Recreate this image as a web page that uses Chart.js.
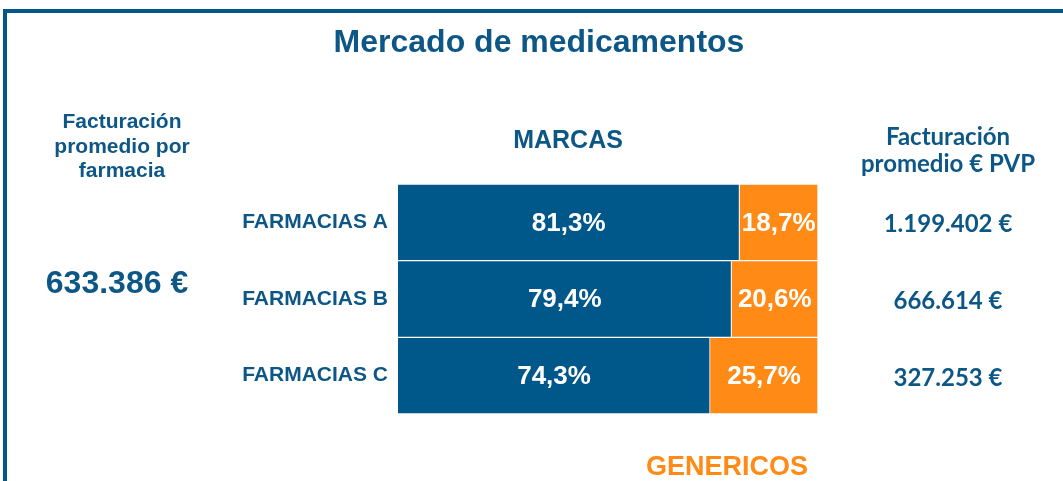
<!DOCTYPE html>
<html>
<head>
<meta charset="utf-8">
<script src="https://cdn.jsdelivr.net/npm/chart.js@4"></script>
<style>
  html, body { margin: 0; padding: 0; background: #fff; }
  #wrap { width: 1063px; height: 481px; position: relative; }
</style>
</head>
<body>
<div id="wrap"><canvas id="chart" width="1063" height="481"></canvas></div>
<script>
var farmacias = ['FARMACIAS A', 'FARMACIAS B', 'FARMACIAS C'];
var marcas = [81.3, 79.4, 74.3];
var genericos = [18.7, 20.6, 25.7];
var facturacionPVP = ['1.199.402 €', '666.614 €', '327.253 €'];
var facturacionMedia = '633.386 €';

var BLUE = '#00578A';
var TEXT_BLUE = '#0D5786';
var ORANGE = '#FF8B16';
var ARIAL = '"Liberation Sans", Arial, sans-serif';
var CALIBRI = 'Lato, "Open Sans", sans-serif';

// frame + free text around the bars
var decorPlugin = {
    id: 'decor',
    beforeDraw: function (chart) {
        var c = chart.ctx;
        c.save();
        c.fillStyle = BLUE;
        c.fillRect(3, 9, 1060, 4);
        c.fillRect(3, 9, 4, 472);

        c.textAlign = 'center';
        c.textBaseline = 'alphabetic';
        c.fillStyle = TEXT_BLUE;
        c.font = 'bold 32px ' + ARIAL;
        c.fillText('Mercado de medicamentos', 539, 52);

        c.font = 'bold 25px ' + ARIAL;
        c.fillText('MARCAS', 568, 148);

        c.font = 'bold 21px ' + ARIAL;
        c.fillText('Facturación', 122, 128);
        c.fillText('promedio por', 122, 152.5);
        c.fillText('farmacia', 122, 177);

        c.font = 'bold 32px ' + ARIAL;
        c.fillText(facturacionMedia, 117, 293);

        c.font = 'bold 24px ' + CALIBRI;
        c.fillText('Facturación', 948, 145);
        c.fillText('promedio € PVP', 948, 172);

        var yScale = chart.scales.y;
        facturacionPVP.forEach(function (v, i) {
            c.fillText(v, 948, yScale.getPixelForValue(i) + 10);
        });

        c.fillStyle = ORANGE;
        c.font = 'bold 27px ' + ARIAL;
        c.fillText('GENERICOS', 727, 475);
        c.restore();
    },
    afterDatasetsDraw: function (chart) {
        var c = chart.ctx;
        c.save();
        c.fillStyle = '#fff';
        c.textAlign = 'center';
        c.textBaseline = 'middle';
        c.font = 'bold 26px ' + ARIAL;
        chart.data.datasets.forEach(function (ds, di) {
            chart.getDatasetMeta(di).data.forEach(function (bar, i) {
                var p = bar.getProps(['x', 'y', 'base'], true);
                var txt = ds.data[i].toFixed(1).replace('.', ',') + '%';
                c.fillText(txt, (p.x + p.base) / 2, p.y + 1);
            });
        });
        c.restore();
    }
};

var ctx = document.getElementById('chart').getContext('2d');
var chart = new Chart(ctx, {
    type: 'bar',
    data: {
        labels: farmacias,
        datasets: [
            {
                label: 'MARCAS',
                data: marcas,
                backgroundColor: BLUE,
                borderColor: '#fff',
                borderWidth: 1
            },
            {
                label: 'GENERICOS',
                data: genericos,
                backgroundColor: ORANGE,
                borderColor: '#fff',
                borderWidth: 1
            }
        ]
    },
    options: {
        indexAxis: 'y',
        responsive: false,
        animation: false,
        layout: { padding: { left: 0, top: 184, right: 245, bottom: 67 } },
        plugins: { legend: { display: false }, tooltip: { enabled: false } },
        datasets: { bar: { barPercentage: 1, categoryPercentage: 1 } },
        scales: {
            x: { stacked: true, min: 0, max: 100, display: false },
            y: {
                stacked: true,
                grid: { display: false, drawTicks: false },
                border: { display: false },
                ticks: {
                    padding: 10,
                    color: TEXT_BLUE,
                    font: { family: ARIAL, size: 21, weight: 'bold' }
                },
                afterFit: function (scale) { scale.width = 398; }
            }
        }
    },
    plugins: [decorPlugin]
});
</script>
</body>
</html>
